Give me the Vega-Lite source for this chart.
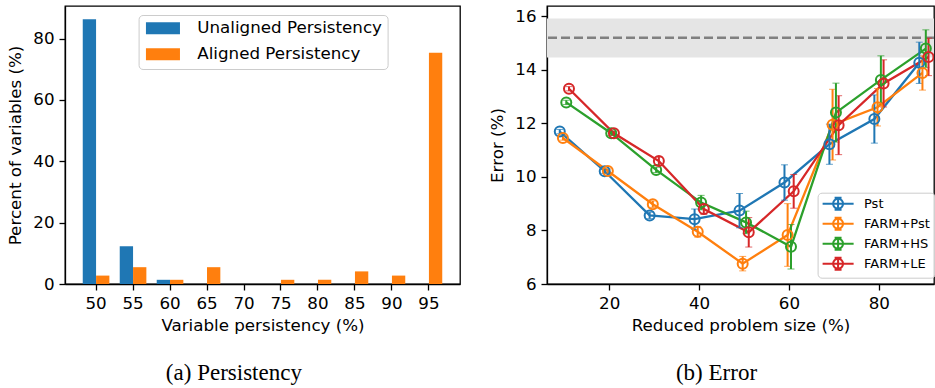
{
  "$schema": "https://vega.github.io/schema/vega-lite/v6.json",
  "padding": {"left": 7, "top": 5, "right": 0, "bottom": 0},
  "resolve": {"scale": {"color": "independent"}, "legend": {"color": "independent"}},
  "config": {
    "font": "DejaVu Sans",
    "view": {"stroke": "black", "strokeWidth": 1.3},
    "concat": {"spacing": 28},
    "axis": {
      "labelFont": "DejaVu Sans", "titleFont": "DejaVu Sans",
      "labelFontSize": 16.7, "titleFontSize": 16.7, "titleFontWeight": "normal",
      "labelColor": "black", "titleColor": "black",
      "domainColor": "black", "domainWidth": 1.3,
      "tickColor": "black", "tickWidth": 1.3, "tickSize": 6,
      "labelPadding": 5, "grid": false
    },
    "legend": {"labelFont": "DejaVu Sans", "labelColor": "black", "labelLimit": 400}
  },
  "hconcat": [
    {
      "width": 395,
      "height": 278,
      "title": {"text": "(a) Persistency", "orient": "bottom", "frame": "bounds", "anchor": "middle", "font": "Liberation Serif", "fontSize": 23, "fontWeight": "normal", "color": "black", "offset": 28},
      "data": {"values": [
        {"bin": 50, "series": "Unaligned Persistency", "pct": 86.3},
        {"bin": 50, "series": "Aligned Persistency", "pct": 2.74},
        {"bin": 55, "series": "Unaligned Persistency", "pct": 12.33},
        {"bin": 55, "series": "Aligned Persistency", "pct": 5.48},
        {"bin": 60, "series": "Unaligned Persistency", "pct": 1.37},
        {"bin": 60, "series": "Aligned Persistency", "pct": 1.37},
        {"bin": 65, "series": "Unaligned Persistency", "pct": 0},
        {"bin": 65, "series": "Aligned Persistency", "pct": 5.48},
        {"bin": 70, "series": "Unaligned Persistency", "pct": 0},
        {"bin": 70, "series": "Aligned Persistency", "pct": 0},
        {"bin": 75, "series": "Unaligned Persistency", "pct": 0},
        {"bin": 75, "series": "Aligned Persistency", "pct": 1.37},
        {"bin": 80, "series": "Unaligned Persistency", "pct": 0},
        {"bin": 80, "series": "Aligned Persistency", "pct": 1.37},
        {"bin": 85, "series": "Unaligned Persistency", "pct": 0},
        {"bin": 85, "series": "Aligned Persistency", "pct": 4.11},
        {"bin": 90, "series": "Unaligned Persistency", "pct": 0},
        {"bin": 90, "series": "Aligned Persistency", "pct": 2.74},
        {"bin": 95, "series": "Unaligned Persistency", "pct": 0},
        {"bin": 95, "series": "Aligned Persistency", "pct": 75.34}
      ]},
      "mark": {"type": "bar"},
      "encoding": {
        "x": {"field": "bin", "type": "ordinal", "scale": {"paddingInner": 0.28, "paddingOuter": 0.48},
              "axis": {"labelAngle": 0, "title": "Variable persistency (%)", "titlePadding": 6}},
        "xOffset": {"field": "series", "type": "nominal", "sort": ["Unaligned Persistency", "Aligned Persistency"], "scale": {"paddingInner": 0, "paddingOuter": 0}},
        "y": {"field": "pct", "type": "quantitative", "scale": {"domain": [0, 90.6], "nice": false},
              "axis": {"values": [0, 20, 40, 60, 80], "title": "Percent of variables (%)", "titlePadding": 8}},
        "color": {"field": "series", "type": "nominal", "sort": ["Unaligned Persistency", "Aligned Persistency"],
                  "scale": {"domain": ["Unaligned Persistency", "Aligned Persistency"], "range": ["#1f77b4", "#ff7f0e"]},
                  "legend": {"title": null, "orient": "none", "legendX": 73.6, "legendY": 9,
                             "labelFontSize": 16.7, "symbolType": "M-1,-1H4.67V1H-1Z", "symbolSize": 144,
                             "symbolStrokeWidth": 0, "labelOffset": 37, "rowPadding": 8,
                             "padding": 5, "strokeColor": "#cccccc", "fillColor": "rgba(255,255,255,0.8)", "cornerRadius": 4,
                             "encode": {"symbols": {"update": {"fillOpacity": {"value": 1}, "opacity": {"value": 1}}}}}}
      }
    },
    {
      "width": 387,
      "height": 278,
      "title": {"text": "(b) Error", "orient": "bottom", "frame": "bounds", "anchor": "middle", "font": "Liberation Serif", "fontSize": 23, "fontWeight": "normal", "color": "black", "offset": 28, "dx": 4},
      "layer": [
        {
          "data": {"values": [{"lo": 14.46, "hi": 15.91}]},
          "mark": {"type": "rect", "color": "#e5e5e5"},
          "encoding": {
            "y": {"field": "lo", "type": "quantitative"},
            "y2": {"field": "hi"}
          }
        },
        {
          "data": {"values": [{"ref": 15.19}]},
          "mark": {"type": "rule", "color": "#808080", "strokeWidth": 2.5, "strokeDash": [9, 4]},
          "encoding": {
            "y": {"field": "ref", "type": "quantitative"}
          }
        },
        {
          "data": {"name": "err"},
          "layer": [
            {
              "mark": {"type": "line", "strokeWidth": 2.3, "clip": true},
              "encoding": {
                "x": {"field": "x", "type": "quantitative"},
                "y": {"field": "y", "type": "quantitative"},
                "color": {"field": "method", "type": "nominal"}
              }
            },
            {
              "mark": {"type": "errorbar", "ticks": {"size": 7, "strokeWidth": 2}, "rule": {"strokeWidth": 2}, "clip": true},
              "encoding": {
                "x": {"field": "x", "type": "quantitative"},
                "y": {"field": "lo", "type": "quantitative"},
                "y2": {"field": "hi"},
                "color": {"field": "method", "type": "nominal"}
              }
            },
            {
              "mark": {"type": "point", "shape": "circle", "filled": false, "size": 100, "strokeWidth": 2, "opacity": 1, "clip": true},
              "encoding": {
                "x": {"field": "x", "type": "quantitative"},
                "y": {"field": "y", "type": "quantitative"},
                "color": {"field": "method", "type": "nominal"}
              }
            }
          ]
        }
      ],
      "encoding": {
        "x": {"type": "quantitative", "scale": {"domain": [6.16, 92.27], "nice": false, "zero": false},
              "axis": {"values": [20, 40, 60, 80], "title": "Reduced problem size (%)", "titlePadding": 6}},
        "y": {"type": "quantitative", "scale": {"domain": [6, 16.38], "nice": false, "zero": false},
              "axis": {"values": [6, 8, 10, 12, 14, 16], "title": "Error (%)", "titlePadding": 8}},
        "color": {"type": "nominal",
                  "scale": {"domain": ["Pst", "FARM+Pst", "FARM+HS", "FARM+LE"], "range": ["#1f77b4", "#ff7f0e", "#2ca02c", "#d62728"]},
                  "legend": {"title": null, "orient": "none", "legendX": 270.6, "legendY": 186.7,
                             "labelFontSize": 13,
                             "symbolType": "M-1,0H4.17M1.58,-1V1M1,-1H2.16M1,1H2.16M2.41,0L2.347,0.318L2.167,0.587L1.898,0.767L1.58,0.83L1.262,0.767L0.993,0.587L0.813,0.318L0.75,0L0.813,-0.318L0.993,-0.587L1.262,-0.767L1.58,-0.83L1.898,-0.767L2.167,-0.587L2.347,-0.318Z",
                             "symbolSize": 144, "symbolStrokeWidth": 2,
                             "labelOffset": 28.4, "rowPadding": 0, "padding": 4,
                             "strokeColor": "#cccccc", "fillColor": "rgba(255,255,255,0.8)", "cornerRadius": 4,
                             "encode": {"symbols": {"update": {"fill": {"value": "transparent"}, "fillOpacity": {"value": 0}, "opacity": {"value": 1}, "strokeOpacity": {"value": 1}, "strokeWidth": {"value": 2}}}}}}
      }
    }
  ],
  "datasets": {
    "err": [
      {"method": "Pst", "x": 9, "y": 11.69, "lo": 11.61, "hi": 11.77},
      {"method": "Pst", "x": 19, "y": 10.21, "lo": 10.13, "hi": 10.29},
      {"method": "Pst", "x": 29, "y": 8.56, "lo": 8.44, "hi": 8.68},
      {"method": "Pst", "x": 39, "y": 8.42, "lo": 8.04, "hi": 8.8},
      {"method": "Pst", "x": 49, "y": 8.74, "lo": 8.1, "hi": 9.38},
      {"method": "Pst", "x": 59, "y": 9.79, "lo": 9.13, "hi": 10.45},
      {"method": "Pst", "x": 69, "y": 11.22, "lo": 10.47, "hi": 11.97},
      {"method": "Pst", "x": 79, "y": 12.16, "lo": 11.26, "hi": 13.06},
      {"method": "Pst", "x": 89, "y": 14.26, "lo": 13.49, "hi": 15.03},
      {"method": "FARM+Pst", "x": 9.7, "y": 11.45, "lo": 11.37, "hi": 11.53},
      {"method": "FARM+Pst", "x": 19.7, "y": 10.22, "lo": 10.14, "hi": 10.3},
      {"method": "FARM+Pst", "x": 29.7, "y": 8.98, "lo": 8.86, "hi": 9.1},
      {"method": "FARM+Pst", "x": 39.7, "y": 7.95, "lo": 7.75, "hi": 8.15},
      {"method": "FARM+Pst", "x": 49.7, "y": 6.76, "lo": 6.49, "hi": 7.03},
      {"method": "FARM+Pst", "x": 59.7, "y": 7.83, "lo": 6.66, "hi": 9.0},
      {"method": "FARM+Pst", "x": 69.7, "y": 11.95, "lo": 10.63, "hi": 13.27},
      {"method": "FARM+Pst", "x": 79.7, "y": 12.6, "lo": 11.9, "hi": 13.3},
      {"method": "FARM+Pst", "x": 89.7, "y": 13.88, "lo": 13.24, "hi": 14.52},
      {"method": "FARM+HS", "x": 10.45, "y": 12.78, "lo": 12.7, "hi": 12.86},
      {"method": "FARM+HS", "x": 20.45, "y": 11.63, "lo": 11.55, "hi": 11.71},
      {"method": "FARM+HS", "x": 30.45, "y": 10.26, "lo": 10.16, "hi": 10.36},
      {"method": "FARM+HS", "x": 40.45, "y": 9.04, "lo": 8.77, "hi": 9.31},
      {"method": "FARM+HS", "x": 50.45, "y": 8.3, "lo": 7.88, "hi": 8.72},
      {"method": "FARM+HS", "x": 60.45, "y": 7.39, "lo": 6.56, "hi": 8.22},
      {"method": "FARM+HS", "x": 70.45, "y": 12.4, "lo": 11.3, "hi": 13.5},
      {"method": "FARM+HS", "x": 80.45, "y": 13.62, "lo": 12.72, "hi": 14.52},
      {"method": "FARM+HS", "x": 90.45, "y": 14.79, "lo": 14.09, "hi": 15.49},
      {"method": "FARM+LE", "x": 11.05, "y": 13.29, "lo": 13.21, "hi": 13.37},
      {"method": "FARM+LE", "x": 21.05, "y": 11.63, "lo": 11.55, "hi": 11.71},
      {"method": "FARM+LE", "x": 31.05, "y": 10.59, "lo": 10.44, "hi": 10.74},
      {"method": "FARM+LE", "x": 41.05, "y": 8.8, "lo": 8.6, "hi": 9.0},
      {"method": "FARM+LE", "x": 51.05, "y": 7.93, "lo": 7.38, "hi": 8.48},
      {"method": "FARM+LE", "x": 61.05, "y": 9.46, "lo": 8.83, "hi": 10.09},
      {"method": "FARM+LE", "x": 71.05, "y": 11.93, "lo": 10.83, "hi": 13.03},
      {"method": "FARM+LE", "x": 81.05, "y": 13.49, "lo": 12.61, "hi": 14.37},
      {"method": "FARM+LE", "x": 91.05, "y": 14.48, "lo": 13.78, "hi": 15.18}
    ]
  }
}
